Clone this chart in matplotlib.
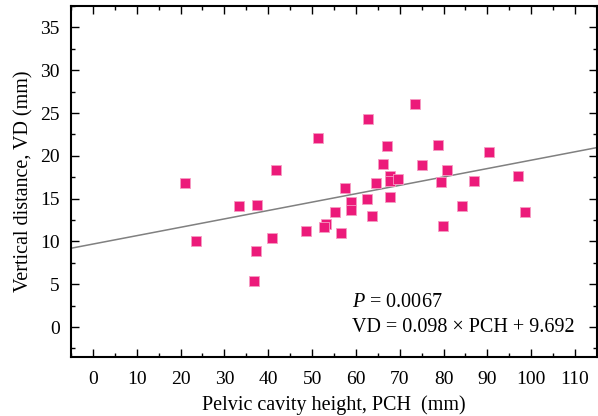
import numpy as np
import matplotlib
matplotlib.use('Agg')
import matplotlib.pyplot as plt
from matplotlib.ticker import MultipleLocator

plt.rcParams['font.family'] = ['Liberation Serif', 'DejaVu Serif']
plt.rcParams['mathtext.fontset'] = 'custom'
plt.rcParams['mathtext.it'] = 'Liberation Serif:italic'
plt.rcParams['mathtext.rm'] = 'Liberation Serif'

# data
pch = [21.1, 23.5, 33.4, 37.5, 37.1, 36.7, 40.9, 41.7, 48.6, 51.4,
       53.1, 52.7, 55.3, 56.6, 57.5, 58.9, 58.9, 62.8, 62.5, 63.6,
       64.6, 66.2, 67.1, 67.8, 67.8, 67.8, 69.6, 73.5, 75.1, 78.8,
       79.4, 79.9, 80.8, 84.2, 86.9, 90.4, 97.0, 98.5]
vd = [16.8, 10.1, 14.1, 14.3, 8.9, 5.4, 10.4, 18.4, 11.2, 22.1,
      12.0, 11.7, 13.4, 11.0, 16.2, 14.6, 13.7, 24.3, 15.0, 13.0,
      16.8, 19.1, 21.1, 15.2, 17.6, 17.1, 17.3, 26.0, 18.9, 21.3,
      16.9, 11.8, 18.3, 14.1, 17.1, 20.4, 17.6, 13.4]
fit_slope = 0.098
fit_intercept = 9.692
p_value = '0.0067'

xlim = (-5, 115)
ylim = (-3.5, 37.5)

fig = plt.figure(figsize=(5.98, 4.16), dpi=100)
ax = fig.add_axes([0.1187, 0.1418, 0.8796, 0.8438])

#regression line
xs = np.array(xlim)
ax.plot(xs, fit_slope * xs + fit_intercept, color='#808080', lw=1.1, zorder=2)

#points
ax.scatter(pch, vd, marker='s', s=58, color='#ec1a7a', edgecolors='#f59cc3',
           linewidths=0.6, zorder=3)

ax.set_xlim(*xlim)
ax.set_ylim(*ylim)
ax.xaxis.set_major_locator(MultipleLocator(10))
ax.xaxis.set_minor_locator(MultipleLocator(5))
ax.yaxis.set_major_locator(MultipleLocator(5))
ax.yaxis.set_minor_locator(MultipleLocator(2.5))
ax.tick_params(which='both', direction='in', top=True, right=True, width=1, labelsize=14)
ax.tick_params(which='major', length=6)
ax.tick_params(which='minor', length=3)
ax.tick_params(axis='x', pad=10)
ax.tick_params(axis='y', pad=8)
for sp in ax.spines.values():
    sp.set_linewidth(1.5)

ax.set_xlabel('Pelvic cavity height, PCH  (mm)', fontsize=14.5, labelpad=5)
ax.set_ylabel('Vertical distance, VD (mm)', fontsize=14.5, labelpad=5)

ax.text(0.534, 0.154, r'$P$ = ' + p_value, transform=ax.transAxes,
        fontsize=14.5, va='center', ha='left')
ax.text(0.534, 0.085, 'VD = %.3f × PCH + %.3f' % (fit_slope, fit_intercept),
        transform=ax.transAxes, fontsize=14.5, va='center', ha='left')

fig.savefig('out.png', dpi=100)
